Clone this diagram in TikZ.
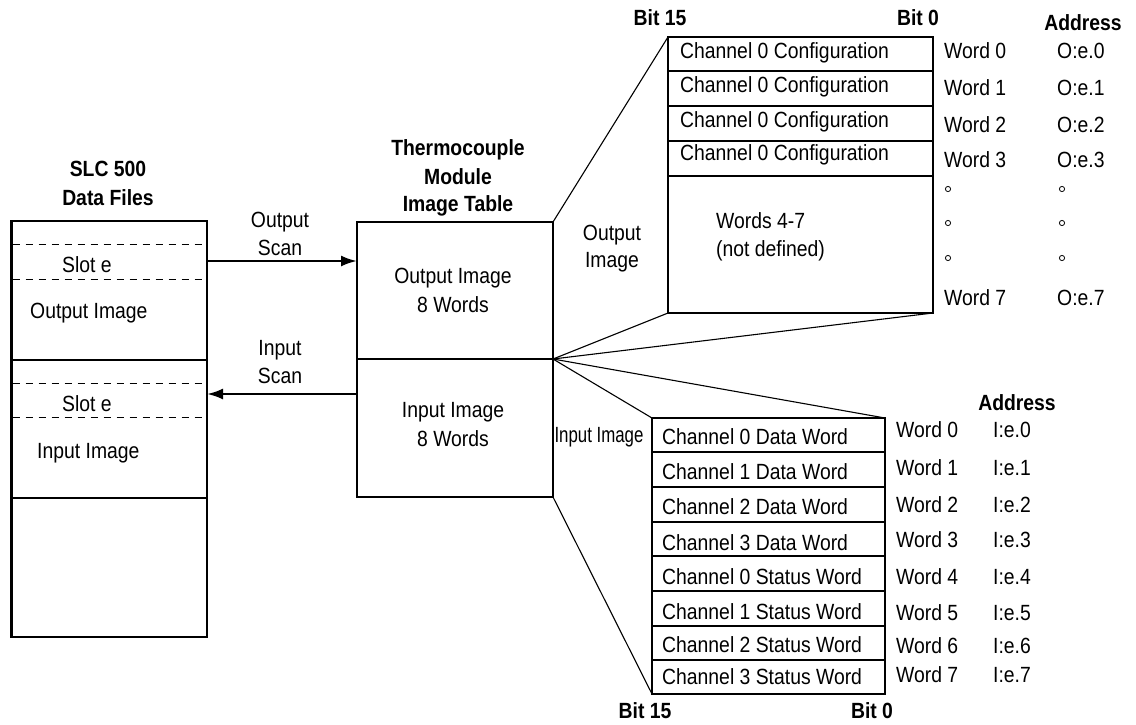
\documentclass[tikz,border=0pt]{standalone}
\usepackage{fontspec}
\setmainfont[FakeStretch=0.88]{Liberation Sans}
\usetikzlibrary{arrows.meta}
\newcommand{\myfs}{\fontsize{22}{27}\selectfont}
\tikzset{
  box/.style={draw, line width=2.4pt, rectangle, inner sep=0pt, outer sep=0pt, anchor=north west},
  fan/.style={line width=1.1pt},
  dsh/.style={line width=1pt, dash pattern=on 7pt off 6pt},
  arr/.style={line width=2.4pt, -{Latex[length=16pt,width=11pt]}},
  lbl/.style={inner sep=0pt, font=\myfs},
  ttl/.style={inner sep=0pt, font=\myfs\bfseries},
  dot/.style={line width=0.8pt},
}
\begin{document}
\begin{tikzpicture}[x=1pt,y=-1pt]
\useasboundingbox (0,0) rectangle (1136,724);

% ---------- SLC 500 data files ----------
\node[ttl, anchor=base] (t1) at (108,176) {SLC 500};
\node[ttl, anchor=base] (t2) at (108,205) {Data Files};
\node[box, minimum width=195.5pt, minimum height=139pt] (slcout) at (11.5,221) {};
\node[box, minimum width=195.5pt, minimum height=138pt] (slcin) at (11.5,360) {};
\node[box, minimum width=195.5pt, minimum height=139pt] (slcrest) at (11.5,498) {};
\draw[dsh] (12.7,244) -- (205.8,244);
\draw[dsh] (12.7,279) -- (205.8,279);
\draw[dsh] (12.7,383) -- (205.8,383);
\draw[dsh] (12.7,417) -- (205.8,417);
\node[lbl, anchor=base] (s1) at (87,272) {Slot e};
\node[lbl, anchor=base west] (oi) at (30,318) {Output Image};
\node[lbl, anchor=base] (s2) at (87,411) {Slot e};
\node[lbl, anchor=base west] (ii) at (37,458) {Input Image};

% ---------- Module image table ----------
\node[ttl, anchor=base] (t3) at (458,155) {Thermocouple};
\node[ttl, anchor=base] (t4) at (458,184) {Module};
\node[ttl, anchor=base] (t5) at (458,211) {Image Table};
\node[box, minimum width=196pt, minimum height=137pt] (modout) at (357,222) {};
\node[box, minimum width=196pt, minimum height=138pt] (modin) at (357,359) {};
\node[lbl, anchor=base] (mo1) at (453,283) {Output Image};
\node[lbl, anchor=base] (mo2) at (453,312) {8 Words};
\node[lbl, anchor=base] (mi1) at (453,417) {Input Image};
\node[lbl, anchor=base] (mi2) at (453,446) {8 Words};

% ---------- scan arrows ----------
\coordinate (os) at (0,261);
\coordinate (is) at (0,394);
\draw[arr] (slcout.east |- os) -- (modout.west |- os);
\draw[arr] (modin.west |- is) -- (slcin.east |- is);
\node[lbl, anchor=base] (sc1) at (280,227) {Output};
\node[lbl, anchor=base] (sc2) at (280,255) {Scan};
\node[lbl, anchor=base] (sc3) at (280,355) {Input};
\node[lbl, anchor=base] (sc4) at (280,383) {Scan};

% ---------- Output image table ----------
\node[ttl, anchor=base] (b15a) at (660,25) {Bit 15};
\node[ttl, anchor=base] (b0a) at (918,25) {Bit 0};
\node[ttl, anchor=base] (adra) at (1083,30) {Address};
\node[box, minimum width=265pt, minimum height=34pt] (or0) at (668,37) {};
\node[box, minimum width=265pt, minimum height=35pt] (or1) at (668,71) {};
\node[box, minimum width=265pt, minimum height=35pt] (or2) at (668,106) {};
\node[box, minimum width=265pt, minimum height=35pt] (or3) at (668,141) {};
\node[box, minimum width=265pt, minimum height=137pt] (orest) at (668,176) {};
\node[lbl, anchor=base west] at (680,58) {Channel 0 Configuration};
\node[lbl, anchor=base west] at (680,92) {Channel 0 Configuration};
\node[lbl, anchor=base west] at (680,127) {Channel 0 Configuration};
\node[lbl, anchor=base west] at (680,160) {Channel 0 Configuration};
\node[lbl, anchor=base west] at (716,228) {Words 4-7};
\node[lbl, anchor=base west] at (716,256) {(not defined)};
\node[lbl, anchor=base west] at (944,58) {Word 0};
\node[lbl, anchor=base west] at (944,95) {Word 1};
\node[lbl, anchor=base west] at (944,132) {Word 2};
\node[lbl, anchor=base west] at (944,167) {Word 3};
\node[lbl, anchor=base west] at (944,305) {Word 7};
\node[lbl, anchor=base west] at (1057,58) {O:e.0};
\node[lbl, anchor=base west] at (1057,95) {O:e.1};
\node[lbl, anchor=base west] at (1057,132) {O:e.2};
\node[lbl, anchor=base west] at (1057,167) {O:e.3};
\node[lbl, anchor=base west] at (1057,305) {O:e.7};
\foreach \yy in {189,223,258} {
  \draw[dot] (948,\yy) circle (2.6pt);
  \draw[dot] (1062,\yy) circle (2.6pt);
}
\node[lbl, anchor=base] (olab1) at (612,240) {Output};
\node[lbl, anchor=base] (olab2) at (612,267) {Image};

% ---------- Input image table ----------
\node[ttl, anchor=base] (adrb) at (1017,410) {Address};
\node[box, minimum width=233pt, minimum height=34pt] (ir0) at (652,418) {};
\node[box, minimum width=233pt, minimum height=35pt] (ir1) at (652,452) {};
\node[box, minimum width=233pt, minimum height=35pt] (ir2) at (652,487) {};
\node[box, minimum width=233pt, minimum height=34pt] (ir3) at (652,522) {};
\node[box, minimum width=233pt, minimum height=35pt] (ir4) at (652,556) {};
\node[box, minimum width=233pt, minimum height=35pt] (ir5) at (652,591) {};
\node[box, minimum width=233pt, minimum height=34pt] (ir6) at (652,626) {};
\node[box, minimum width=233pt, minimum height=34pt] (ir7) at (652,660) {};
\node[lbl, anchor=base west] at (662,444) {Channel 0 Data Word};
\node[lbl, anchor=base west] at (662,479) {Channel 1 Data Word};
\node[lbl, anchor=base west] at (662,514) {Channel 2 Data Word};
\node[lbl, anchor=base west] at (662,550) {Channel 3 Data Word};
\node[lbl, anchor=base west] at (662,584) {Channel 0 Status Word};
\node[lbl, anchor=base west] at (662,619) {Channel 1 Status Word};
\node[lbl, anchor=base west] at (662,652) {Channel 2 Status Word};
\node[lbl, anchor=base west] at (662,684) {Channel 3 Status Word};
\node[lbl, anchor=base west] at (896,437) {Word 0};
\node[lbl, anchor=base west] at (896,475) {Word 1};
\node[lbl, anchor=base west] at (896,512) {Word 2};
\node[lbl, anchor=base west] at (896,547) {Word 3};
\node[lbl, anchor=base west] at (896,584) {Word 4};
\node[lbl, anchor=base west] at (896,620) {Word 5};
\node[lbl, anchor=base west] at (896,653) {Word 6};
\node[lbl, anchor=base west] at (896,682) {Word 7};
\node[lbl, anchor=base west] at (993,437) {I:e.0};
\node[lbl, anchor=base west] at (993,475) {I:e.1};
\node[lbl, anchor=base west] at (993,512) {I:e.2};
\node[lbl, anchor=base west] at (993,547) {I:e.3};
\node[lbl, anchor=base west] at (993,584) {I:e.4};
\node[lbl, anchor=base west] at (993,620) {I:e.5};
\node[lbl, anchor=base west] at (993,653) {I:e.6};
\node[lbl, anchor=base west] at (993,682) {I:e.7};
\node[lbl, anchor=base] (ilab) at (599,442) {\scalebox{0.87}[1]{Input Image}};
\node[ttl, anchor=base] (b15b) at (645,718) {Bit 15};
\node[ttl, anchor=base] (b0b) at (872,718) {Bit 0};

% ---------- fan lines ----------
\draw[fan] (modout.north east) -- (or0.north west);
\draw[fan] (modout.south east) -- (orest.south west);
\draw[fan] (modout.south east) -- (orest.south east);
\draw[fan] (modin.north east) -- (ir0.north west);
\draw[fan] (modin.north east) -- (ir0.north east);
\draw[fan] (modin.south east) -- (ir7.south west);
\end{tikzpicture}
\end{document}
